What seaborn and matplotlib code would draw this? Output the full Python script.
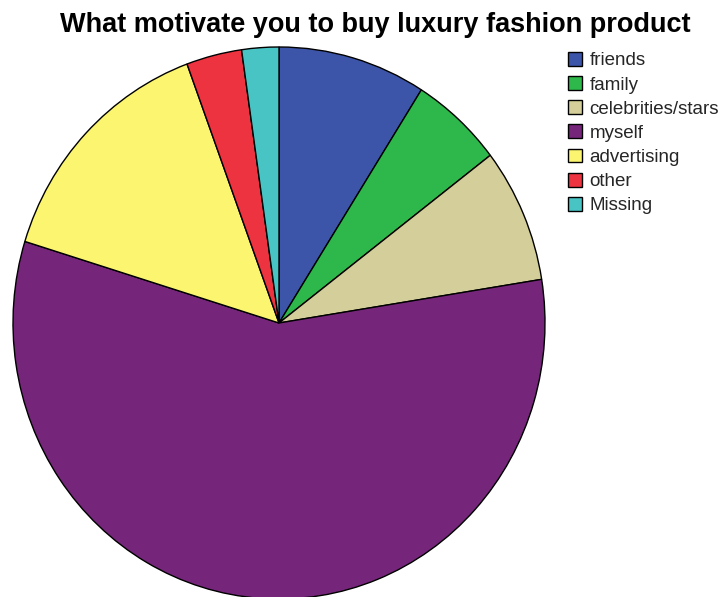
import matplotlib
matplotlib.use("Agg")
import matplotlib.pyplot as plt
import seaborn as sns
from matplotlib.patches import Patch

categories = ["friends", "family", "celebrities/stars", "myself", "advertising", "other", "Missing"]
counts = [8, 5, 7, 51, 13, 3, 2]
colors = ["#3D55A8", "#2EB84B", "#D4CF9A", "#76267A", "#FBF570", "#EE3340", "#48C4C4"]

sns.set_theme(style="white")
plt.rcParams["font.family"] = ["Liberation Sans", "DejaVu Sans"]

fig = plt.figure(figsize=(7.23, 5.97), dpi=100)
ax = fig.add_axes([13 / 723, -2 / 597, 532 / 723, 552 / 597])
palette = sns.color_palette(colors)

ax.pie(counts, colors=palette, startangle=90, counterclock=False,
       wedgeprops=dict(edgecolor="black", linewidth=1.0))
ax.set_aspect("auto")
ax.set_xlim(-1, 1)
ax.set_ylim(-1, 1)
ax.axis("off")

fig.text(375 / 723, 1 - 25 / 597, "What motivate you to buy luxury fashion product",
         ha="center", va="center", fontsize=19.5, fontweight="bold", color="black")

handles = [Patch(facecolor=c, edgecolor="black", linewidth=1.0) for c in palette]
fig.legend(handles, categories, loc="upper left", bbox_to_anchor=(568 / 723, 1 - 52 / 597),
           frameon=False, fontsize=13.5, handlelength=0.75, handleheight=0.75,
           handletextpad=0.4, labelspacing=0.36, borderpad=0.0, borderaxespad=0)

fig.savefig("out.png", dpi=100, facecolor="white")
